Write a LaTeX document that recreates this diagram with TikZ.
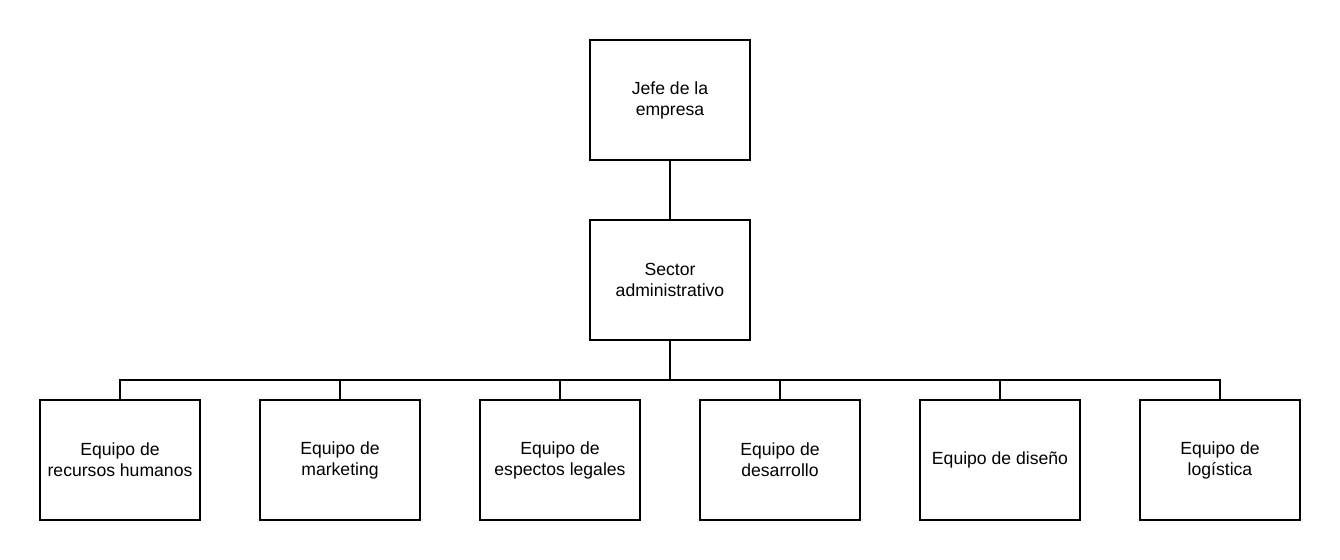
\documentclass[tikz,border=0pt]{standalone}
\usepackage{fontspec}
\setmainfont{Liberation Sans}
\begin{document}
\begin{tikzpicture}[x=0.75pt,y=-0.75pt,
  box/.style={draw,line width=1.5pt,minimum width=120pt,minimum height=90pt,align=center,inner sep=0pt,
    font=\fontsize{13.2}{15.8}\selectfont},
  conn/.style={line width=1.5pt}]
\useasboundingbox (0,0) rectangle (1340,560);
\node[box] (jefe) at (670,100) {Jefe de la\\empresa};
\node[box] (sector) at (670,280) {Sector\\administrativo};
\node[box] (rh) at (120,460) {Equipo de\\recursos humanos};
\node[box] (mk) at (340,460) {Equipo de\\marketing};
\node[box] (lg) at (560,460) {Equipo de\\espectos legales};
\node[box] (dv) at (780,460) {Equipo de\\desarrollo};
\node[box] (ds) at (1000,460) {Equipo de diseño};
\node[box] (lo) at (1220,460) {Equipo de\\logística};
\coordinate (bus) at (670,380);
\draw[conn] (jefe.south) -- (sector.north);
\draw[conn] (sector.south) -- (bus);
\foreach \n in {rh,mk,lg,dv,ds,lo}{
  \draw[conn] (\n.north) -- (\n.north |- bus) -- (bus);
}
\end{tikzpicture}
\end{document}
